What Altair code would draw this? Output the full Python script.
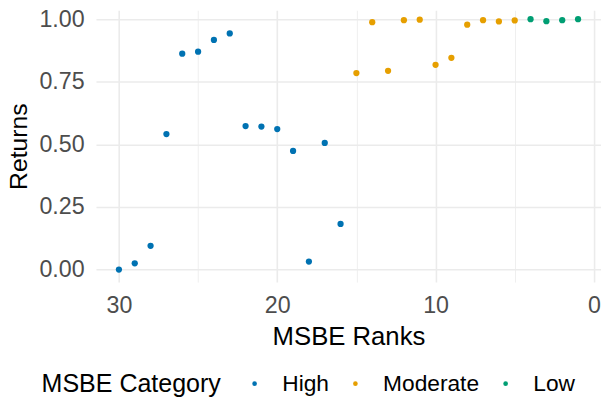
import altair as alt
import pandas as pd

ranks = list(range(30, 0, -1))
returns = [0.000, 0.025, 0.095, 0.541, 0.862, 0.870, 0.917, 0.943, 0.573, 0.571,
           0.561, 0.474, 0.032, 0.506, 0.182, 0.785, 0.988, 0.794, 0.996, 0.998,
           0.818, 0.846, 0.978, 0.996, 0.991, 0.995, 1.000, 0.992, 0.996, 1.000]
categories = ["High"] * 15 + ["Moderate"] * 11 + ["Low"] * 4
cat_order = ["High", "Moderate", "Low"]
cat_colors = ["#0072B2", "#E69F00", "#009E73"]
x_ticks = [0, 5, 10, 15, 20, 25, 30]
y_ticks = [0, 0.25, 0.5, 0.75, 1.0]

df = pd.DataFrame({"rank": ranks, "ret": returns, "cat": categories})

FONT = "Liberation Sans"

chart = alt.Chart(df).mark_point(filled=True, size=40, opacity=1).encode(
    x=alt.X("rank:Q", title="MSBE Ranks",
            scale=alt.Scale(domain=[31.45, -0.45], nice=False, zero=False),
            axis=alt.Axis(values=x_ticks, format="d",
                          labelExpr="datum.value % 10 === 0 ? datum.label : ''",
                          gridWidth={"condition": {"test": "datum.value % 10 === 0", "value": 1.6},
                                     "value": 0.8},
                          labelPadding=12, titlePadding=7)),
    y=alt.Y("ret:Q", title="Returns",
            scale=alt.Scale(domain=[-0.05, 1.0356], nice=False, zero=False),
            axis=alt.Axis(values=y_ticks, format=".2f", labelPadding=12,
                          gridWidth=1.6, titlePadding=8, titleFontSize=25)),
    color=alt.Color("cat:N", title="MSBE Category",
                    scale=alt.Scale(domain=cat_order, range=cat_colors),
                    sort=cat_order,
                    legend=alt.Legend(orient="none", direction="horizontal",
                                      titleOrient="left", legendX=-55, legendY=366,
                                      symbolSize=22, symbolType="circle",
                                      labelOffset=16.5, columnPadding=15,
                                      titlePadding=22, titleLimit=400, labelLimit=300)),
).properties(
    width=511, height=275,
    autosize=alt.AutoSizeParams(type="none"),
    padding={"left": 89, "top": 0, "right": 0, "bottom": 117},
).configure_view(stroke=None).configure_axis(
    domain=False, ticks=False, gridColor="#EBEBEB",
    labelFont=FONT, titleFont=FONT, labelFontSize=23.5, titleFontSize=26,
    labelColor="#4D4D4D", titleColor="#000000", titleFontWeight="normal",
).configure_legend(
    titleFont=FONT, labelFont=FONT, titleFontSize=25.3, labelFontSize=23,
    titleFontWeight="normal", titleColor="#000000", labelColor="#000000",
)

chart.save("out.html", embed_options={"renderer": "svg", "actions": False})
